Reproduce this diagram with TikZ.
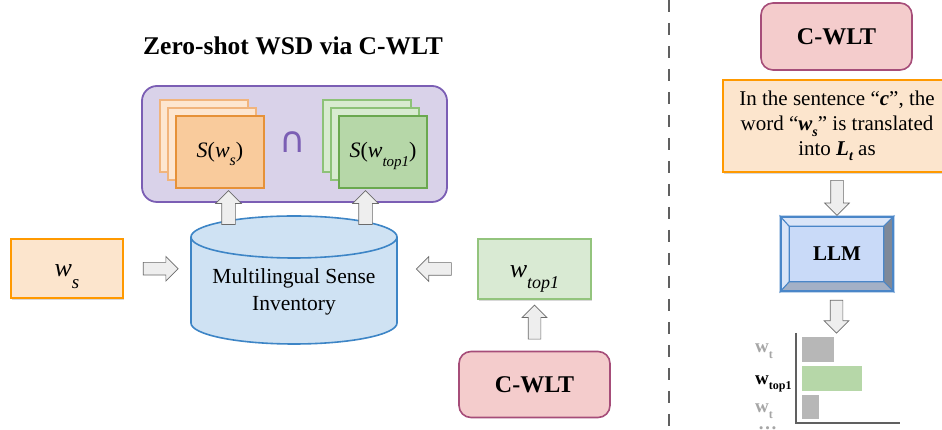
\documentclass[tikz,border=0pt]{standalone}
\usepackage{fontspec}
\setmainfont{Liberation Serif}
\newfontfamily\symfont{DejaVu Sans}
\usetikzlibrary{shapes.arrows, shadows, backgrounds, calc, positioning}

\definecolor{orfill}{HTML}{FCE5CD}
\definecolor{ordraw}{HTML}{FF9900}
\definecolor{cardorfill}{HTML}{F9CB9C}
\definecolor{cardordraw}{HTML}{E69138}
\definecolor{cardorback}{HTML}{FDE6D0}
\definecolor{cardorbackdraw}{HTML}{F1B47C}
\definecolor{grfill}{HTML}{D9EAD3}
\definecolor{grdraw}{HTML}{93C47D}
\definecolor{cardgrfill}{HTML}{B6D7A8}
\definecolor{cardgrdraw}{HTML}{6AA84F}
\definecolor{cardgrback}{HTML}{D8EBD0}
\definecolor{cardgrbackdraw}{HTML}{8DC278}
\definecolor{purfill}{HTML}{D9D2E9}
\definecolor{purdraw}{HTML}{7B5EB4}
\definecolor{pinkfill}{HTML}{F4CCCC}
\definecolor{pinkdraw}{HTML}{A64D79}
\definecolor{dbfill}{HTML}{CFE2F3}
\definecolor{dbdraw}{HTML}{3D85C6}
\definecolor{arrfill}{HTML}{EEEEEE}
\definecolor{arrdraw}{HTML}{6B6B6B}
\definecolor{llmfill}{HTML}{C9DAF8}
\definecolor{llmdraw}{HTML}{4A86C8}
\definecolor{llmlight}{HTML}{DAE5F8}
\definecolor{llmright}{HTML}{7E8898}
\definecolor{llmbottom}{HTML}{A3B0C6}
\definecolor{bargray}{HTML}{B7B7B7}
\definecolor{labgray}{HTML}{A6A6A6}
\definecolor{sepgray}{HTML}{606060}

\newcommand{\lowsub}[3]{\raisebox{-#1}{\fontsize{#2}{#2}\selectfont #3}}

\begin{document}
\begin{tikzpicture}[x=1pt, y=1pt,
    shade box/.style={drop shadow={shadow xshift=1pt, shadow yshift=-2pt, opacity=0.3}},
    wordbox/.style={draw, line width=2.2pt, minimum width=112pt, minimum height=59pt,
        inner sep=0pt, text height=28pt, text depth=11pt, shade box},
    card/.style={draw, line width=1.1pt, minimum width=88pt, minimum height=72pt, inner sep=0pt,
        text height=20pt, text depth=8pt,
        drop shadow={shadow xshift=1pt, shadow yshift=-1pt, opacity=0.25}},
    cwlt/.style={draw=pinkdraw, fill=pinkfill, line width=1.6pt, rounded corners=12pt,
        minimum width=151pt, minimum height=66pt, font=\fontsize{24}{24}\selectfont\bfseries},
    blockarr/.style={single arrow, draw=arrdraw, fill=arrfill, line width=0.7pt,
        inner xsep=0pt, inner ysep=6pt, minimum height=35pt, minimum width=24pt,
        single arrow head extend=6pt},
    bar/.style={minimum height=25pt, inner sep=0pt, anchor=south west},
    barlab/.style={anchor=base west, inner sep=0pt, font=\fontsize{19}{19}\selectfont\bfseries},
]
    \useasboundingbox (0,0) rectangle (942,430);

    % left part: title and sense sets
    \node[font=\fontsize{25.5}{28}\selectfont\bfseries] (title) at (293,384) {Zero-shot WSD via C-WLT};
    \node[draw=purdraw, fill=purfill, line width=1.8pt, rounded corners=15pt,
        minimum width=305pt, minimum height=116pt] (senses) at (294.5,286) {};

    \foreach \d in {16,8} {
        \node[card, draw=cardorbackdraw, fill=cardorback] (sws\d) at ({220-\d},{278+\d}) {};
        \node[card, draw=cardgrbackdraw, fill=cardgrback] (stop\d) at ({383-\d},{278+\d}) {};
    }
    \node[card, draw=cardordraw, fill=cardorfill] (sws) at (220,278)
        {\fontsize{22}{22}\selectfont\textit{S}(\textit{w\lowsub{8pt}{16}{s}})};
    \node[card, draw=cardgrdraw, fill=cardgrfill] (stop) at (383,278)
        {\fontsize{22}{22}\selectfont\textit{S}(\textit{w\lowsub{9pt}{15}{top1}})};
    \node[text=purdraw, font=\symfont\fontsize{36}{36}\selectfont] (inter) at (293,288) {∩};

    % sense inventory
    \path[fill=dbfill] (191,193) -- (191,107)
        arc[start angle=180, end angle=360, x radius=103, y radius=21] -- (397,193) -- cycle;
    \draw[dbdraw, line width=1.6pt] (191,193) -- (191,107)
        arc[start angle=180, end angle=360, x radius=103, y radius=21] -- (397,193);
    \draw[dbdraw, fill=dbfill, line width=1.6pt] (294,193) ellipse[x radius=103, y radius=21];
    \node[font=\fontsize{21.5}{27}\selectfont, align=center] (db) at (294,138) {Multilingual Sense\\Inventory};
    \coordinate (dbwest) at (191,161);
    \coordinate (dbeast) at (397,161);

    % words
    \node[wordbox, draw=ordraw, fill=orfill] (ws) at (67,161.5)
        {\fontsize{26}{26}\selectfont\itshape w\lowsub{12pt}{19}{s}};
    \node[wordbox, draw=grdraw, fill=grfill, line width=1.8pt, minimum width=113pt, minimum height=60pt]
        (wtop) at (534.5,161) {\fontsize{26}{26}\selectfont\itshape w\lowsub{11pt}{18}{top1}};
    \node[cwlt] (cwlt) at (534.5,45.5) {C-WLT};

    % block arrows
    \node[blockarr] (a1) at ($(ws.east)!0.5!(dbwest)$) {};
    \node[blockarr, rotate=180] (a2) at ($(wtop.west)!0.5!(dbeast)$) {};
    \node[blockarr, rotate=90, minimum height=34pt] (a3) at ($(cwlt.north)!0.5!(wtop.south)$) {};
    \node[blockarr, rotate=90, minimum height=34pt, inner ysep=6.5pt] (a4) at (228.5,219) {};
    \node[blockarr, rotate=90, minimum height=34pt, inner ysep=6.5pt] (a5) at (365.5,219) {};

    % separator
    \draw[sepgray, line width=2.4pt, dash pattern=on 12pt off 11pt] (669,430) -- (669,0);

    % right part: prompting the LLM
    \node[cwlt, minimum height=67pt] (cwltR) at (836.5,393.5) {C-WLT};
    \node[draw=ordraw, fill=orfill, line width=2.4pt, minimum width=228pt, minimum height=92pt,
        align=center, font=\fontsize{21}{25}\selectfont, shade box] (prompt) at (837,304)
        {In the sentence “\textbf{\textit{c}}”, the\\
         word “\textbf{\textit{w\lowsub{6pt}{14}{s}}}” is translated\\
         into \textbf{\textit{L\lowsub{5pt}{14}{t}}} as};
    \node[draw=llmdraw, line width=1.6pt, minimum width=112pt, minimum height=74pt,
        font=\fontsize{21}{21}\selectfont\bfseries] (llm) at (837,176) {LLM};
    \path (llm.north west) ++(9,-10) coordinate (inNW);
    \path (llm.north east) ++(-10,-10) coordinate (inNE);
    \path (llm.south east) ++(-10,10) coordinate (inSE);
    \path (llm.south west) ++(9,10) coordinate (inSW);

    \node[blockarr, rotate=270, minimum height=35pt] (a6) at ($(prompt.south)!0.5!(llm.north)$) {};
    \coordinate (ytop) at (796,97);
    \coordinate (origin) at (796,7);
    \coordinate (xend) at (900,7);
    \node[blockarr, rotate=270, minimum height=33pt] (a7) at (836.5,116.5) {};

    % bar chart
    \draw[sepgray, line width=1.8pt] (ytop) -- (origin) -- (xend);
    \node[bar, fill=bargray, minimum width=32pt] (b1) at (802,68) {};
    \node[bar, fill=cardgrfill, minimum width=60pt] (b2) at (802,39) {};
    \node[bar, fill=bargray, minimum width=17pt, minimum height=24pt] (b3) at (802,11) {};
    \node[barlab, text=labgray] (l1) at (755,77) {w\lowsub{6pt}{12}{t}};
    \node[barlab] (l2) at (755,45) {w\lowsub{5pt}{12}{top1}};
    \node[barlab, text=labgray] (l3) at (755,17) {w\lowsub{6pt}{12}{t}};
    \node[barlab, text=labgray] (l4) at (758,0.5) {\dots};

    \begin{scope}[on background layer]
        \fill[white] (0,0) rectangle (942,430);
        \filldraw[llmlight, draw=llmdraw, line width=1pt] (llm.north west) -- (llm.south west) -- (inSW) -- (inNW) -- cycle;
        \filldraw[llmlight, draw=llmdraw, line width=1pt] (llm.north west) -- (llm.north east) -- (inNE) -- (inNW) -- cycle;
        \filldraw[llmright, draw=llmdraw, line width=1pt] (llm.north east) -- (llm.south east) -- (inSE) -- (inNE) -- cycle;
        \filldraw[llmbottom, draw=llmdraw, line width=1pt] (llm.south west) -- (llm.south east) -- (inSE) -- (inSW) -- cycle;
        \filldraw[llmfill, draw=llmdraw, line width=1.2pt] (inNW) rectangle (inSE);
    \end{scope}

\end{tikzpicture}
\end{document}
